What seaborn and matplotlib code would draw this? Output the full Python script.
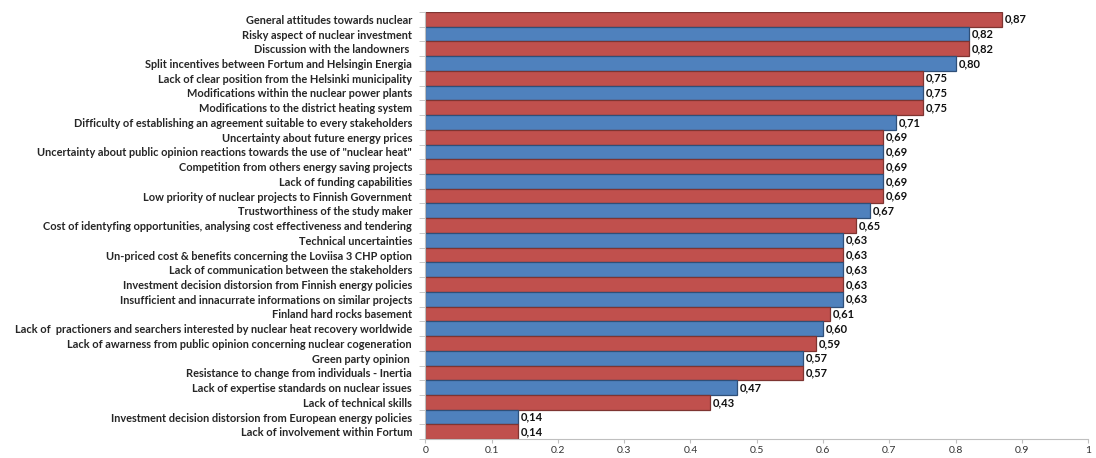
import matplotlib
matplotlib.use("Agg")
import matplotlib.pyplot as plt
import seaborn as sns
import pandas as pd

categories = [
    "General attitudes towards nuclear",
    "Risky aspect of nuclear investment",
    "Discussion with the landowners ",
    "Split incentives between Fortum and Helsingin Energia",
    "Lack of clear position from the Helsinki municipality",
    "Modifications within the nuclear power plants",
    "Modifications to the district heating system",
    "Difficulty of establishing an agreement suitable to every stakeholders",
    "Uncertainty about future energy prices",
    "Uncertainty about public opinion reactions towards the use of \"nuclear heat\"",
    "Competition from others energy saving projects",
    "Lack of funding capabilities",
    "Low priority of nuclear projects to Finnish Government",
    "Trustworthiness of the study maker",
    "Cost of identyfing opportunities, analysing cost effectiveness and tendering",
    "Technical uncertainties",
    "Un-priced cost & benefits concerning the Loviisa 3 CHP option",
    "Lack of communication between the stakeholders",
    "Investment decision distorsion from Finnish energy policies",
    "Insufficient and innacurrate informations on similar projects",
    "Finland hard rocks basement",
    "Lack of  practioners and searchers interested by nuclear heat recovery worldwide",
    "Lack of awarness from public opinion concerning nuclear cogeneration",
    "Green party opinion ",
    "Resistance to change from individuals - Inertia",
    "Lack of expertise standards on nuclear issues",
    "Lack of technical skills",
    "Investment decision distorsion from European energy policies",
    "Lack of involvement within Fortum",
]
scores = [0.87, 0.82, 0.82, 0.80, 0.75, 0.75, 0.75, 0.71, 0.69, 0.69,
          0.69, 0.69, 0.69, 0.67, 0.65, 0.63, 0.63, 0.63, 0.63, 0.63,
          0.61, 0.60, 0.59, 0.57, 0.57, 0.47, 0.43, 0.14, 0.14]
x_ticks = [0, 0.1, 0.2, 0.3, 0.4, 0.5, 0.6, 0.7, 0.8, 0.9, 1]
x_tick_labels = ["0", "0.1", "0.2", "0.3", "0.4", "0.5", "0.6", "0.7", "0.8", "0.9", "1"]

red, blue = "#C0504D", "#4F81BD"
red_edge, blue_edge = "#7E3431", "#2F4F78"
colors = [red if i % 2 == 0 else blue for i in range(len(categories))]
edges = [red_edge if i % 2 == 0 else blue_edge for i in range(len(categories))]

df = pd.DataFrame({"category": categories, "score": scores})

sns.set_style("white")
plt.rcParams["font.family"] = ["Lato", "DejaVu Sans"]

fig = plt.figure(figsize=(10.96, 4.58), dpi=100)
ax = fig.add_axes([0.388, 0.041, 0.605, 0.933])

sns.barplot(data=df, x="score", y="category", hue="category",
            palette=colors, saturation=1, legend=False, width=1.0, ax=ax)

for patch, ec in zip(ax.patches, edges):
    patch.set_edgecolor(ec)
    patch.set_linewidth(0.9)

for container in ax.containers:
    ax.bar_label(container, labels=[f"{v:.2f}".replace(".", ",") for v in container.datavalues],
                 padding=2, fontsize=8, fontweight="bold", color="#111111")

ax.set_xlim(0, 1)
ax.set_ylim(len(categories) - 0.5, -0.5)
ax.set_xticks(x_ticks)
ax.set_xticklabels(x_tick_labels)
ax.set_xlabel("")
ax.set_ylabel("")

for s in ["top", "right"]:
    ax.spines[s].set_visible(False)
for s in ["left", "bottom"]:
    ax.spines[s].set_color("#BFBFBF")
    ax.spines[s].set_linewidth(0.8)

ax.tick_params(axis="x", bottom=True, length=3, color="#BFBFBF", labelsize=7.5,
               labelcolor="#333333", pad=2)
ax.tick_params(axis="y", left=False, labelsize=7.9, pad=6)
for lbl in ax.get_yticklabels():
    lbl.set_fontweight("bold")
ax.set_yticks([i + 0.5 for i in range(-1, len(categories))], minor=True)
ax.tick_params(axis="y", which="minor", left=True, length=4, color="#BFBFBF")

fig.savefig("out.png", dpi=100)
